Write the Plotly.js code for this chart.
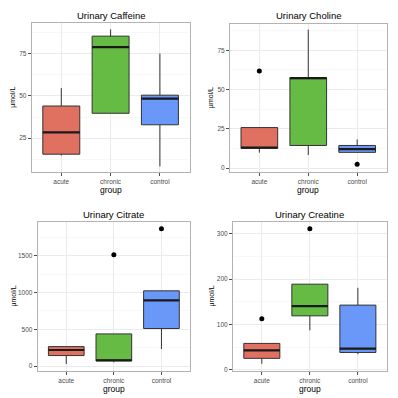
<!DOCTYPE html>
<html>
<head>
<meta charset="utf-8">
<script src="https://cdn.plot.ly/plotly-3.0.1.min.js"></script>
<style>html,body{margin:0;padding:0;background:#fff;}#chart{width:398px;height:398px;}</style>
</head>
<body>
<div id="chart"></div>
<script>
const groups = ['acute', 'chronic', 'control'];
const groupPos = [1, 2, 3];
const fillColors = ['#E07060', '#66BB44', '#6A98F8'];

// Urinary Caffeine
const caffeineLow = [14.7, 39.7, 8.3];
const caffeineQ1 = [15.5, 39.7, 32.9];
const caffeineMedian = [28.4, 78.8, 48.4];
const caffeineQ3 = [44.0, 85.3, 50.4];
const caffeineHigh = [54.6, 89.3, 75.0];
const caffeineOutX = [];
const caffeineOutY = [];

// Urinary Choline
const cholineLow = [9.8, 8.3, 10.0];
const cholineQ1 = [12.5, 14.4, 10.0];
const cholineMedian = [13.1, 57.3, 12.1];
const cholineQ3 = [25.8, 57.6, 14.4];
const cholineHigh = [25.8, 88.2, 18.2];
const cholineOutX = [1, 3];
const cholineOutY = [61.8, 2.5];

// Urinary Citrate
const citrateLow = [27, 50, 232];
const citrateQ1 = [142, 68, 510];
const citrateMedian = [218, 78, 892];
const citrateQ3 = [264, 437, 1023];
const citrateHigh = [264, 437, 1023];
const citrateOutX = [2, 3];
const citrateOutY = [1514, 1869];

// Urinary Creatine
const creatineLow = [13, 87, 34];
const creatineQ1 = [25, 119, 38];
const creatineMedian = [42.6, 140.5, 46.3];
const creatineQ3 = [58, 189, 142.7];
const creatineHigh = [58, 189, 181];
const creatineOutX = [1, 2];
const creatineOutY = [112.5, 311.7];

const panels = [
  {title: 'Urinary Caffeine', lo: caffeineLow, q1: caffeineQ1, med: caffeineMedian, q3: caffeineQ3, hi: caffeineHigh, ox: caffeineOutX, oy: caffeineOutY,
   yr: [4.8, 92.9], tv: [25, 50, 75], minor: [37.5, 62.5, 87.5, 12.5], dx: [31.7, 189.5], dy: [23.3, 172.3]},
  {title: 'Urinary Choline', lo: cholineLow, q1: cholineQ1, med: cholineMedian, q3: cholineQ3, hi: cholineHigh, ox: cholineOutX, oy: cholineOutY,
   yr: [-2.7, 91.8], tv: [0, 25, 50, 75], minor: [12.5, 37.5, 62.5, 87.5], dx: [230, 386.5], dy: [24, 172.3]},
  {title: 'Urinary Citrate', lo: citrateLow, q1: citrateQ1, med: citrateMedian, q3: citrateQ3, hi: citrateHigh, ox: citrateOutX, oy: citrateOutY,
   yr: [-68, 1960], tv: [0, 500, 1000, 1500], minor: [250, 750, 1250, 1750], dx: [37.7, 190], dy: [222, 371]},
  {title: 'Urinary Creatine', lo: creatineLow, q1: creatineQ1, med: creatineMedian, q3: creatineQ3, hi: creatineHigh, ox: creatineOutX, oy: creatineOutY,
   yr: [-3, 326.5], tv: [0, 100, 200, 300], minor: [50, 150, 250], dx: [233, 386.7], dy: [222, 371]}
];

const W = 398, H = 398;
const traces = [];
const layout = {
  width: W, height: H,
  margin: {l: 0, r: 0, t: 0, b: 0},
  paper_bgcolor: '#ffffff', plot_bgcolor: '#ffffff',
  showlegend: false,
  font: {family: 'Liberation Sans, Arial, sans-serif', color: '#4D4D4D'},
  annotations: [],
  shapes: []
};
const boxWidth = 0.75;

panels.forEach((p, k) => {
  const sfx = k === 0 ? '' : String(k + 1);
  const xa = 'x' + sfx, ya = 'y' + sfx;
  groups.forEach((g, i) => {
    traces.push({
      type: 'box', xaxis: xa, yaxis: ya,
      x: [groupPos[i]],
      q1: [p.q1[i]], median: [p.med[i]], q3: [p.q3[i]],
      lowerfence: [p.lo[i]], upperfence: [p.hi[i]],
      width: boxWidth, boxpoints: false,
      fillcolor: fillColors[i],
      line: {color: '#333333', width: 1},
      whiskerwidth: 0,
      hoverinfo: 'skip', name: g
    });
    traces.push({
      type: 'scatter', mode: 'lines', xaxis: xa, yaxis: ya,
      x: [groupPos[i] - boxWidth / 2, groupPos[i] + boxWidth / 2],
      y: [p.med[i], p.med[i]],
      line: {color: '#1a1a1a', width: 2.2}, hoverinfo: 'skip'
    });
  });
  if (p.ox.length) {
    traces.push({
      type: 'scatter', mode: 'markers', xaxis: xa, yaxis: ya,
      x: p.ox, y: p.oy,
      marker: {color: '#000000', size: 5}, hoverinfo: 'skip'
    });
  }
  layout['xaxis' + sfx] = {
    domain: [p.dx[0] / W, p.dx[1] / W], anchor: ya,
    range: [0.4, 3.6], tickvals: groupPos, ticktext: groups,
    showgrid: true, gridcolor: '#EBEBEB', gridwidth: 1,
    zeroline: false, showline: true, linecolor: '#B3B3B3', linewidth: 1, mirror: true,
    ticks: 'outside', ticklen: 3, tickcolor: '#4D4D4D', tickwidth: 1,
    tickfont: {size: 6.5, color: '#4D4D4D'}, fixedrange: true
  };
  layout['yaxis' + sfx] = {
    domain: [1 - p.dy[1] / H, 1 - p.dy[0] / H], anchor: xa,
    range: p.yr, tickvals: p.tv,
    showgrid: true, gridcolor: '#EBEBEB', gridwidth: 1,
    minor: {tickvals: p.minor, showgrid: true, gridcolor: '#F4F4F4', gridwidth: 0.6, ticks: ''},
    zeroline: false, showline: true, linecolor: '#B3B3B3', linewidth: 1, mirror: true,
    ticks: 'outside', ticklen: 3, tickcolor: '#4D4D4D', tickwidth: 1,
    tickfont: {size: 6.5, color: '#4D4D4D'}, fixedrange: true
  };
  const cx = (p.dx[0] + p.dx[1]) / 2;
  layout.annotations.push({
    text: p.title, xref: 'paper', yref: 'paper',
    x: cx / W, y: 1 - (p.dy[0] - 8) / H, xanchor: 'center', yanchor: 'middle',
    showarrow: false, font: {size: 9.5, color: '#000000'}
  });
  layout.annotations.push({
    text: 'group', xref: 'paper', yref: 'paper',
    x: cx / W, y: 1 - (p.dy[1] + 17.5) / H, xanchor: 'center', yanchor: 'middle',
    showarrow: false, font: {size: 8.5, color: '#000000'}
  });
  const cy = (p.dy[0] + p.dy[1]) / 2;
  layout.annotations.push({
    text: 'µmol/L', xref: 'paper', yref: 'paper',
    x: (k % 2 === 0 ? 13 : 211) / W, y: 1 - cy / H, xanchor: 'center', yanchor: 'middle',
    textangle: -90, showarrow: false, font: {size: 7, color: '#000000'}
  });
});

Plotly.newPlot('chart', traces, layout, {staticPlot: true, displayModeBar: false});
</script>
</body>
</html>
